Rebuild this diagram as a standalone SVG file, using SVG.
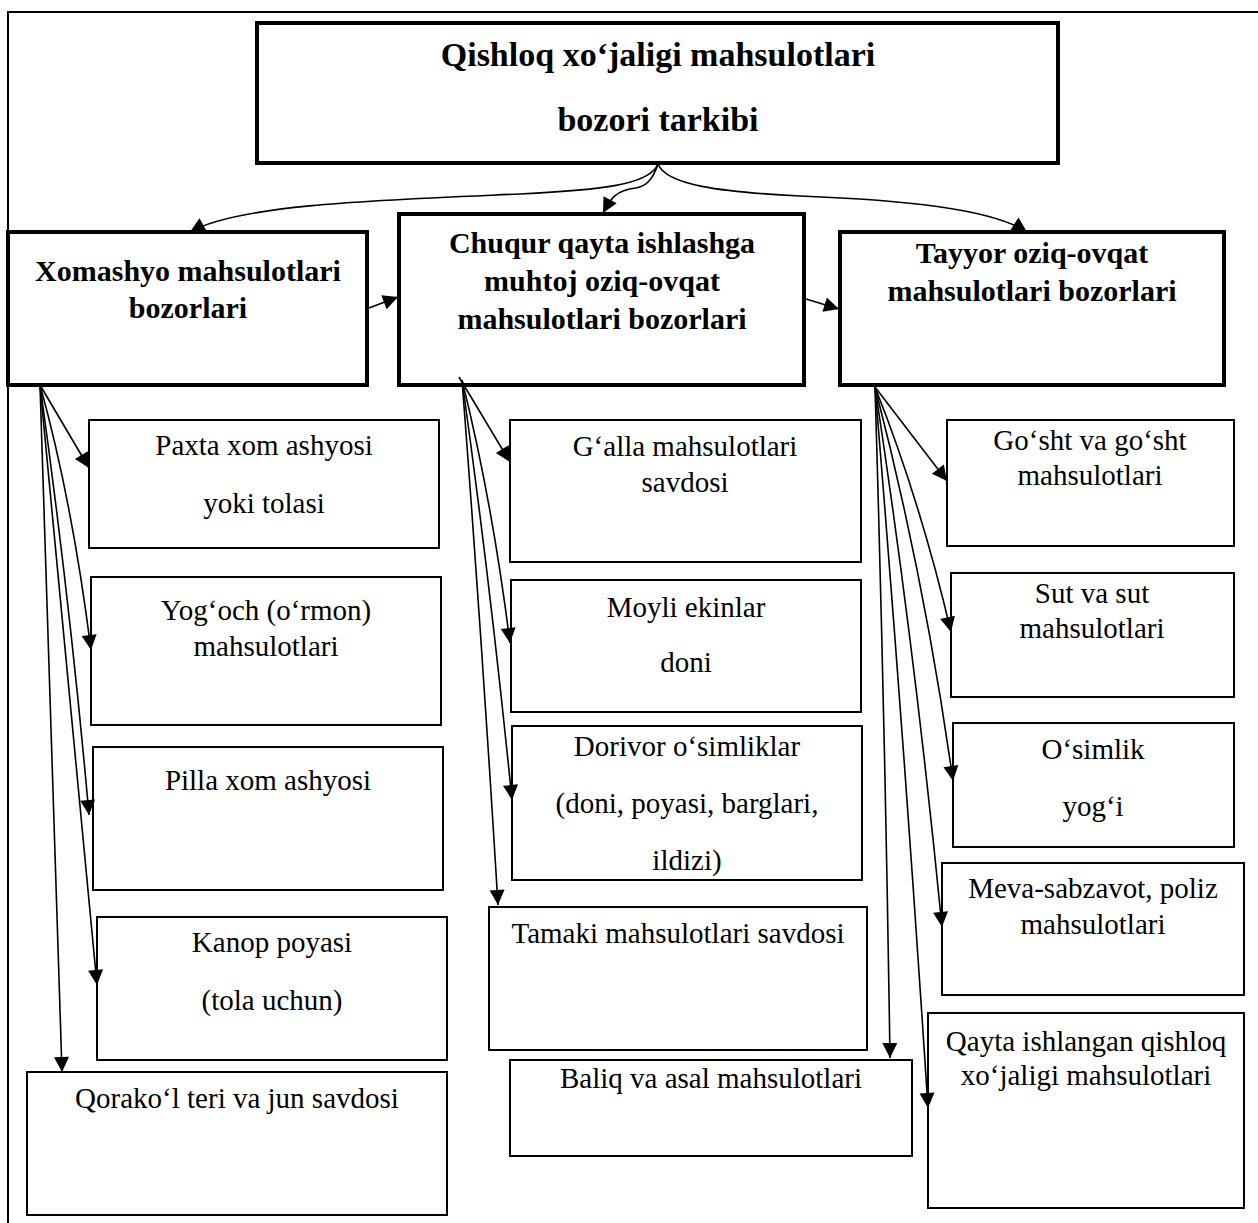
<svg xmlns="http://www.w3.org/2000/svg" width="1258" height="1223" viewBox="0 0 1258 1223">
<style>
.frame{fill:none;stroke:#000;stroke-width:2}
.b1{fill:#fff;stroke:#000;stroke-width:4}
.b3{fill:#fff;stroke:#000;stroke-width:2}
.tt{font-family:"Liberation Serif","Times New Roman",serif;font-weight:bold;font-size:34px;text-anchor:middle;fill:#000}
.t2{font-family:"Liberation Serif","Times New Roman",serif;font-weight:bold;font-size:30px;text-anchor:middle;fill:#000}
.t3{font-family:"Liberation Serif","Times New Roman",serif;font-size:29px;text-anchor:middle;fill:#000}
.c{fill:none;stroke:#000;stroke-width:1.6;marker-end:url(#ah)}
</style>
<defs>
<marker id="ah" markerUnits="userSpaceOnUse" markerWidth="16" markerHeight="16" refX="15" refY="7.5" orient="auto" overflow="visible">
<path d="M0,0 L15,7.5 L0,15 z" fill="#000"/>
</marker>
</defs>
<rect class="frame" x="8" y="12" width="1262" height="1222"/>

<g id="title">
<rect class="b1" x="257" y="23" width="801" height="140"/>
<text class="tt" x="658" y="66">Qishloq xo‘jaligi mahsulotlari</text>
<text class="tt" x="658" y="131">bozori tarkibi</text>
</g>

<g id="xomashyo">
<rect class="b1" x="8" y="232" width="359" height="153"/>
<text class="t2" x="188" y="281">Xomashyo mahsulotlari</text>
<text class="t2" x="188" y="318">bozorlari</text>
</g>
<g id="chuqur">
<rect class="b1" x="399" y="214" width="405" height="171"/>
<text class="t2" x="602" y="253">Chuqur qayta ishlashga</text>
<text class="t2" x="602" y="291">muhtoj oziq-ovqat</text>
<text class="t2" x="602" y="329">mahsulotlari bozorlari</text>
</g>
<g id="tayyor">
<rect class="b1" x="840" y="232" width="384" height="153"/>
<text class="t2" x="1032" y="263">Tayyor oziq-ovqat</text>
<text class="t2" x="1032" y="301">mahsulotlari bozorlari</text>
</g>

<g id="paxta">
<rect class="b3" x="89" y="420" width="350" height="128"/>
<text class="t3" x="264" y="455">Paxta xom ashyosi</text>
<text class="t3" x="264" y="513">yoki tolasi</text>
</g>
<g id="yogoch">
<rect class="b3" x="91" y="577" width="350" height="148"/>
<text class="t3" x="266" y="620">Yog‘och (o‘rmon)</text>
<text class="t3" x="266" y="656">mahsulotlari</text>
</g>
<g id="pilla">
<rect class="b3" x="93" y="747" width="350" height="143"/>
<text class="t3" x="268" y="790">Pilla xom ashyosi</text>
</g>
<g id="kanop">
<rect class="b3" x="97" y="917" width="350" height="143"/>
<text class="t3" x="272" y="952">Kanop poyasi</text>
<text class="t3" x="272" y="1010">(tola uchun)</text>
</g>
<g id="qorakol">
<rect class="b3" x="27" y="1072" width="420" height="143"/>
<text class="t3" x="237" y="1108">Qorako‘l teri va jun savdosi</text>
</g>

<g id="galla">
<rect class="b3" x="510" y="420" width="351" height="142"/>
<text class="t3" x="685" y="456">G‘alla mahsulotlari</text>
<text class="t3" x="685" y="492">savdosi</text>
</g>
<g id="moyli">
<rect class="b3" x="511" y="580" width="350" height="132"/>
<text class="t3" x="686" y="617">Moyli ekinlar</text>
<text class="t3" x="686" y="672">doni</text>
</g>
<g id="dorivor">
<rect class="b3" x="512" y="726" width="350" height="154"/>
<text class="t3" x="687" y="756">Dorivor o‘simliklar</text>
<text class="t3" x="687" y="813">(doni, poyasi, barglari,</text>
<text class="t3" x="687" y="870">ildizi)</text>
</g>
<g id="tamaki">
<rect class="b3" x="489" y="907" width="378" height="143"/>
<text class="t3" x="678" y="943">Tamaki mahsulotlari savdosi</text>
</g>
<g id="baliq">
<rect class="b3" x="510" y="1060" width="402" height="96"/>
<text class="t3" x="711" y="1088">Baliq va asal mahsulotlari</text>
</g>

<g id="gosht">
<rect class="b3" x="947" y="420" width="287" height="126"/>
<text class="t3" x="1090" y="450">Go‘sht va go‘sht</text>
<text class="t3" x="1090" y="485">mahsulotlari</text>
</g>
<g id="sut">
<rect class="b3" x="951" y="573" width="283" height="124"/>
<text class="t3" x="1092" y="603">Sut va sut</text>
<text class="t3" x="1092" y="638">mahsulotlari</text>
</g>
<g id="osimlik">
<rect class="b3" x="953" y="723" width="281" height="124"/>
<text class="t3" x="1093" y="759">O‘simlik</text>
<text class="t3" x="1093" y="816">yog‘i</text>
</g>
<g id="meva">
<rect class="b3" x="942" y="863" width="302" height="132"/>
<text class="t3" x="1093" y="898">Meva-sabzavot, poliz</text>
<text class="t3" x="1093" y="934">mahsulotlari</text>
</g>
<g id="qayta">
<rect class="b3" x="928" y="1013" width="316" height="195"/>
<text class="t3" x="1086" y="1051">Qayta ishlangan qishloq</text>
<text class="t3" x="1086" y="1085">xo‘jaligi mahsulotlari</text>
</g>

<g id="connectors">
<path class="c" d="M658,164 C650,185 600,190 520,194 C380,200 240,204 190,232"/>
<path class="c" d="M658,164 C652,182 645,186 636,188 C615,190 610,200 603,213"/>
<path class="c" d="M658,164 C666,185 720,192 800,196 C900,200 990,208 1027,232"/>
<path class="c" d="M369,308 L398,297"/>
<path class="c" d="M806,299 L839,309"/>

<path class="c" d="M40,385 L89,468"/>
<path class="c" d="M40,385 Q72,500 91,650"/>
<path class="c" d="M40,385 Q70,600 89,815"/>
<path class="c" d="M40,385 Q68,680 97,985"/>
<path class="c" d="M40,385 L62,1072"/>

<path class="c" d="M459,377 L510,462"/>
<path class="c" d="M462,380 Q492,500 510,643"/>
<path class="c" d="M462,380 Q490,580 512,800"/>
<path class="c" d="M462,380 Q482,640 498,905"/>

<path class="c" d="M875,387 L947,481"/>
<path class="c" d="M875,387 Q920,500 951,632"/>
<path class="c" d="M875,387 Q925,580 953,781"/>
<path class="c" d="M875,387 Q915,650 942,927"/>
<path class="c" d="M875,387 Q905,750 928,1108"/>
<path class="c" d="M875,387 Q885,720 890,1058"/>
</g>
</svg>
